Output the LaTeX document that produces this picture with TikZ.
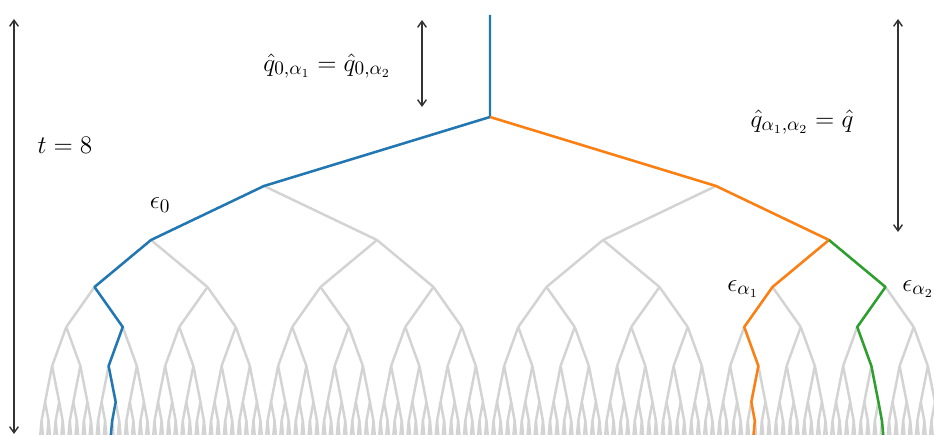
\documentclass[tikz,border=0pt]{standalone}
\usepackage{amsmath,amssymb}
\usepackage{tikz}
\usetikzlibrary{arrows.meta, positioning, calc}
\definecolor{branchgray}{RGB}{211, 211, 211}
\definecolor{pathblue}{RGB}{31, 119, 180}
\definecolor{pathorange}{RGB}{255, 127, 14}
\definecolor{pathgreen}{RGB}{44, 160, 44}
\definecolor{arrowcolor}{RGB}{51, 51, 51}

\tikzset{
    branch/.style={draw=branchgray, line width=1.4pt, line join=round},
    lineage/.style={line width=1.4pt, line join=round},
    span/.style={draw=arrowcolor, line width=0.8pt, {Straight Barb[length=3.5pt,width=5pt]}-{Straight Barb[length=3.5pt,width=5pt]}},
    lbl/.style={font=\fontsize{15}{18}\selectfont, inner sep=1pt}
}

\begin{document}
\begin{tikzpicture}[x=0.02cm, y=-0.02cm]
\useasboundingbox (0,0) rectangle (934,435);
\begin{scope}
\clip (0,0) rectangle (934,435);
\coordinate (top) at (490,15);
\coordinate (n-0-0) at (490,117);
\foreach \l in {1,...,8}{
    \pgfmathtruncatemacro\nn{2^\l-1}
    \pgfmathsetmacro\yy{{117,186,240,287,327,366,402,421,440}[\l]}
    \pgfmathsetmacro\dx{452/2^\l}
    \foreach \i in {0,...,\nn}{
        \pgfmathsetmacro\xx{38+\dx*(2*\i+1)}
        \coordinate (n-\l-\i) at (\xx,\yy);
    }
}
\draw[branch] (top) -- (n-0-0);
\foreach \l in {1,...,8}{
    \pgfmathtruncatemacro\pl{\l-1}
    \pgfmathtruncatemacro\nn{2^\l-1}
    \foreach \i in {0,...,\nn}{
        \pgfmathtruncatemacro\pa{floor(\i/2)}
        \draw[branch] (n-\pl-\pa) -- (n-\l-\i);
    }
}
\draw[lineage, pathblue] (top) -- (n-0-0) -- (n-1-0) -- (n-2-0) -- (n-3-0) -- (n-4-1) -- (n-5-2) -- (n-6-5) -- (n-7-10) -- (n-8-20);
\draw[lineage, pathorange] (n-0-0) -- (n-1-1) -- (n-2-3) -- (n-3-6) -- (n-4-12) -- (n-5-25) -- (n-6-50) -- (n-7-101) -- (n-8-202);
\draw[lineage, pathgreen] (n-2-3) -- (n-3-7) -- (n-4-14) -- (n-5-29) -- (n-6-59) -- (n-7-119) -- (n-8-239);
\end{scope}

\coordinate (tstart) at (14,19);
\coordinate (tend) at (14,434);
\coordinate (rootstart) at (422,20);
\coordinate (rootend) at (422,107);
\coordinate (splitstart) at (898,19);
\coordinate (splitend) at (898,232);
\draw[span] (tstart) -- (tend);
\draw[span] (rootstart) -- (rootend);
\draw[span] (splitstart) -- (splitend);

\node[lbl] (qzero) at (327,66) {$\hat{q}_{0,\alpha_1} = \hat{q}_{0,\alpha_2}$};
\node[lbl] (qsplit) at (802,122) {$\hat{q}_{\alpha_1,\alpha_2} = \hat{q}$};
\node[lbl] (tlabel) at (65,145) {$t = 8$};
\node[lbl] (eps0) at (160,205) {$\epsilon_0$};
\node[lbl] (eps1) at (743,289) {$\epsilon_{\alpha_1}$};
\node[lbl] (eps2) at (918,289) {$\epsilon_{\alpha_2}$};
\end{tikzpicture}
\end{document}
